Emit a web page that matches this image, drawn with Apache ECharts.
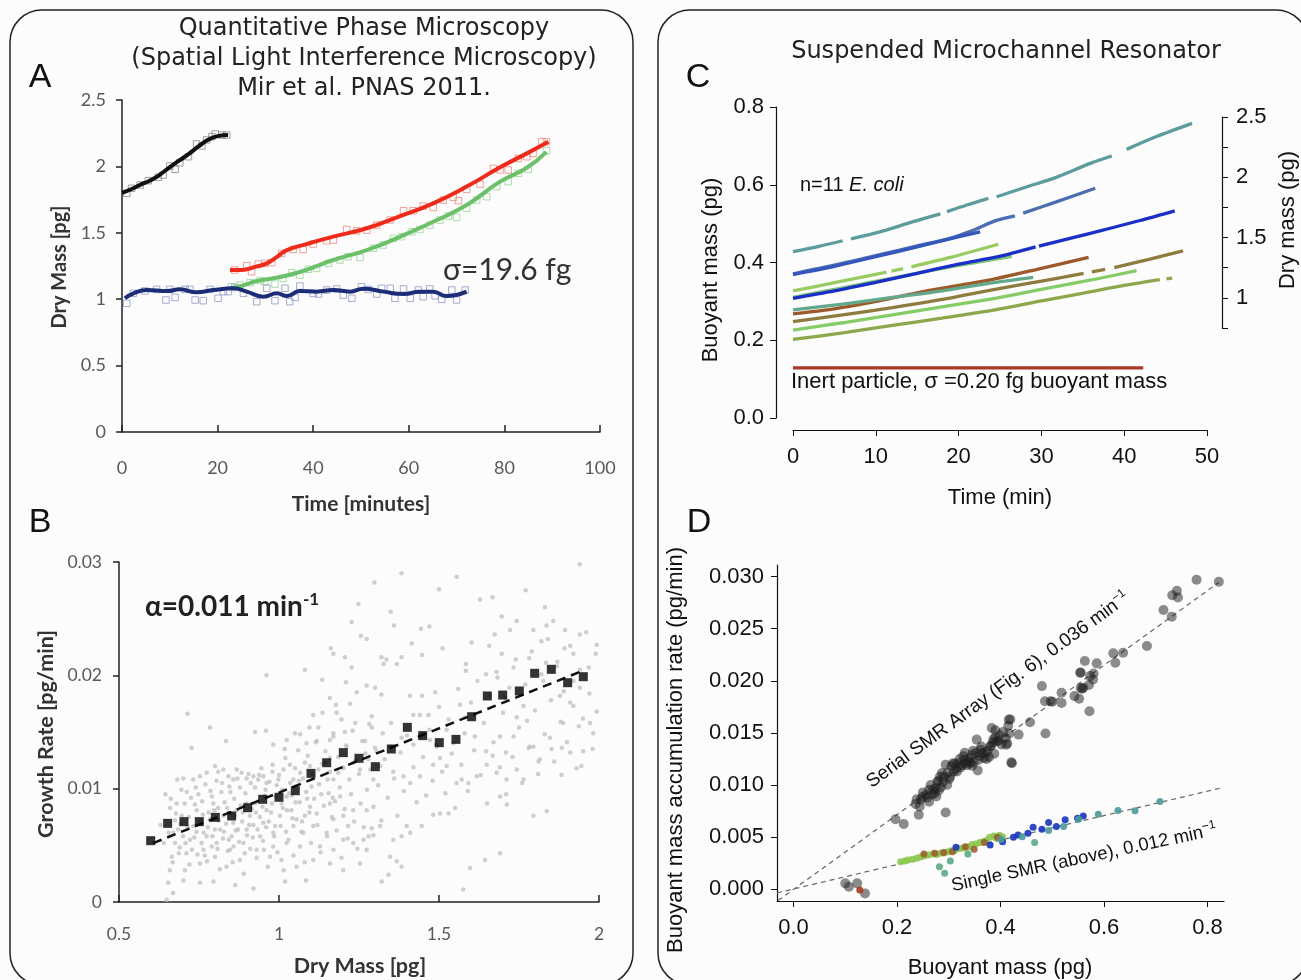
<!DOCTYPE html>
<html><head><meta charset="utf-8">
<script src="https://cdn.jsdelivr.net/npm/echarts@6/dist/echarts.min.js"></script>
<style>html,body{margin:0;padding:0;background:#fcfcfc}#c{width:1301px;height:980px}</style>
</head><body><div id="c"></div><script>
// ---------------- Panel A (dry mass vs time) ----------------
const aBlackLine = [[0,1.80],[2,1.83],[4,1.865],[6,1.895],[8,1.94],[10,1.995],[12,2.045],[14,2.095],[16,2.15],[18,2.2],[20,2.228],[22.2,2.236]];
const aBlackMarks = [[1.0,1.797],[2.0,1.835],[3.8,1.86],[5.5,1.893],[7.6,1.918],[8.6,1.935],[10.0,2.003],[11.1,1.978],[12.1,2.028],[13.9,2.073],[15.6,2.169],[16.7,2.154],[17.7,2.199],[18.8,2.224],[19.5,2.244],[20.9,2.236],[21.9,2.236]];
const aRedLine = [[22.6,1.22],[25,1.22],[28,1.245],[30.3,1.27],[32.5,1.32],[34.5,1.37],[38.6,1.415],[44.2,1.471],[51.2,1.534],[58.2,1.626],[65.1,1.722],[72.1,1.848],[79.1,1.993],[84.7,2.098],[89.2,2.186]];
const aRedMarks = [[23.6,1.22],[26.1,1.252],[27.1,1.207],[28.5,1.265],[29.9,1.27],[31.3,1.275],[33.4,1.345],[35.8,1.375],[37.9,1.375],[40.0,1.415],[42.8,1.44],[44.2,1.445],[47.0,1.525],[49.1,1.515],[51.2,1.52],[53.3,1.558],[56.1,1.596],[58.9,1.666],[60.9,1.666],[63.0,1.701],[65.1,1.691],[67.2,1.747],[69.3,1.767],[70.4,1.742],[72.1,1.827],[74.9,1.867],[77.7,1.985],[79.1,1.973],[80.8,1.973],[82.9,2.06],[84.7,2.073],[86.0,2.098],[87.8,2.186],[88.8,2.186]];
const aGreenLine = [[22.6,1.082],[25,1.10],[28,1.135],[32,1.16],[37.2,1.205],[44.2,1.295],[51.2,1.37],[58.2,1.471],[65.1,1.583],[72.1,1.709],[79.1,1.885],[84.7,1.99],[88.8,2.11]];
const aGreenMarks = [[22.9,1.094],[24.7,1.107],[26.8,1.124],[28.9,1.14],[29.9,1.132],[32.0,1.114],[33.7,1.157],[35.5,1.2],[37.2,1.182],[39.0,1.225],[40.7,1.232],[43.2,1.27],[45.6,1.295],[47.3,1.32],[49.8,1.315],[52.6,1.383],[54.6,1.408],[56.8,1.458],[58.5,1.471],[60.6,1.508],[62.3,1.525],[64.4,1.558],[66.5,1.596],[68.3,1.626],[70.0,1.616],[72.1,1.684],[74.2,1.747],[76.3,1.772],[78.4,1.848],[80.8,1.885],[82.9,1.948],[85.0,1.978],[88.8,2.118]];
const aBlueLine = [[0.6,1.007],[2.4,1.044],[5.2,1.069],[9.4,1.061],[12.1,1.074],[15.6,1.052],[19.1,1.069],[23.3,1.082],[26.1,1.057],[29.6,1.019],[32.4,1.044],[34.5,1.024],[37.2,1.061],[40.7,1.057],[44.2,1.069],[47.7,1.057],[50.5,1.079],[54.7,1.057],[58.9,1.039],[62.3,1.057],[65.1,1.057],[67.9,1.024],[72.1,1.057]];
const aBlueMarks = [[0.98,0.969],[2.37,1.044],[4.81,1.062],[7.25,1.074],[9.2,0.994],[10.0,1.074],[11.1,1.014],[13.2,1.074],[14.2,1.074],[15.3,0.994],[17.0,0.989],[18.4,1.074],[20.1,1.007],[21.2,1.057],[22.2,1.057],[23.6,1.089],[25.4,1.044],[28.2,0.981],[30.3,1.082],[32.0,0.989],[34.1,1.082],[35.1,0.981],[36.2,1.014],[37.2,1.099],[40.0,1.044],[41.1,1.039],[42.8,1.069],[44.9,1.077],[46.3,1.031],[48.1,1.007],[50.1,1.094],[51.5,1.074],[53.3,1.039],[54.3,1.082],[56.1,1.082],[57.1,1.007],[58.9,1.077],[60.3,1.007],[62.0,1.069],[63.0,1.019],[64.4,1.077],[65.5,1.026],[66.9,0.999],[69.0,1.069],[70.0,0.994],[71.8,1.069]];

// ---------------- Panel B (growth rate vs dry mass) ----------------
const bBins = [[0.599,0.00541],[0.652,0.00694],[0.703,0.00709],[0.751,0.00709],[0.801,0.00747],[0.852,0.00759],[0.902,0.00832],[0.949,0.00906],[1.000,0.00924],[1.051,0.00982],[1.100,0.01135],[1.149,0.01229],[1.201,0.01318],[1.250,0.01268],[1.301,0.01194],[1.351,0.01350],[1.401,0.01541],[1.449,0.01468],[1.501,0.01406],[1.553,0.01435],[1.602,0.01635],[1.651,0.01818],[1.699,0.01826],[1.751,0.01862],[1.799,0.02018],[1.851,0.02053],[1.902,0.01935],[1.951,0.01988]];
const bFit = [[0.607,0.0052],[1.94,0.0203]];
const bCells = [[1.94,.0298],[1.383,.029],[1.555,.0287],[1.298,.0282],[1.5,.0276],[1.771,.0275],[1.628,.0267],[1.667,.0269],[1.831,.026],[1.248,.0263],[1.349,.0256],[1.696,.0252],[1.743,.0248],[1.857,.0248],[1.227,.0247],[1.359,.0244],[1.444,.0241],[1.47,.0243],[1.722,.024],[1.795,.024],[1.836,.0244],[1.894,.024],[1.94,.0236],[1.256,.0235],[1.274,.0232],[1.602,.0229],[1.993,.0227],[1.82,.023],[1.674,.0236],[1.162,.0224],[1.415,.0228],[1.511,.0224],[1.657,.0226],[1.892,.0224],[1.447,.0218],[1.696,.0219],[1.92,.0219],[1.17,.0219],[1.32,.0216],[1.336,.0214],[1.383,.0216],[1.782,.0215],[1.834,.0211],[1.206,.0216],[1.081,.0205],[1.227,.0207],[1.327,.021],[1.368,.021],[1.584,.021],[1.584,.0204],[1.733,.0207],[1.868,.0208],[1.968,.0207],[.961,.02],[1.647,.0201],[1.683,.0198],[1.826,.0195],[1.92,.0195],[1.135,.0196],[1.209,.0194],[1.94,.0189],[1.274,.0191],[1.3,.0189],[1.243,.0185],[1.32,.0183],[1.409,.0182],[1.447,.0182],[1.488,.0185],[1.707,.018],[1.878,.0182],[1.91,.0176],[1.993,.0168],[1.764,.0173],[1.159,.018],[1.178,.0174],[1.222,.0175],[1.107,.0165],[1.136,.0167],[1.18,.0167],[1.195,.0161],[1.29,.0164],[1.42,.0165],[1.467,.0165],[1.566,.0174],[1.582,.0163],[1.743,.0163],[1.775,.016],[1.972,.0158],[1.982,.0149],[1.888,.0158],[1.937,.0155],[.714,.0166],[.925,.015],[.959,.0151],[1.05,.0149],[1.066,.0148],[1.095,.0154],[1.123,.0154],[1.17,.0149],[1.206,.015],[1.238,.0158],[1.282,.0157],[1.324,.0149],[1.447,.0148],[1.472,.0143],[1.524,.0152],[1.612,.0146],[1.691,.0146],[1.733,.0146],[1.795,.0137],[1.847,.0145],[1.884,.0136],[1.951,.0133],[.784,.0154],[.834,.0142],[.727,.0136],[.982,.0139],[1.024,.0143],[1.018,.0135],[1.086,.014],[1.118,.0142],[1.159,.0143],[1.211,.0137],[1.269,.0142],[1.305,.0133],[1.349,.0137],[1.383,.0145],[1.42,.0139],[1.493,.0137],[1.545,.014],[1.647,.0133],[1.668,.0129],[1.709,.0132],[1.784,.0137],[1.811,.0124],[1.852,.0135],[1.91,.0132],
[.682,.0108],[.701,.0109],[.732,.0108],[.753,.0111],[.774,.0114],[.8,.012],[.81,.0115],[.826,.0117],[.842,.0111],[.857,.0108],[.868,.0117],[.883,.0114],[.899,.0109],[.92,.0111],[.935,.0108],[.951,.0111],[.961,.0105],[.98,.0115],[.998,.0108],[1.014,.0117],[1.034,.0121],[1.045,.0108],[1.066,.0114],[1.081,.0123],[1.097,.012],[1.123,.0117],[1.144,.0123],[1.159,.0127],[1.17,.0108],[1.185,.0114],[1.201,.0118],[1.232,.0123],[1.253,.0117],[1.279,.0126],[1.295,.0108],[1.316,.012],[1.357,.0115],[1.389,.0111],[1.41,.0105],[1.441,.0111],[1.482,.0121],[1.503,.0127],[1.524,.012],[1.555,.0105],[1.571,.0108],[1.618,.0111],[1.649,.0121],[1.68,.0114],[1.711,.0108],[1.743,.0117],[1.764,.0108],[1.815,.0126],[1.883,.0112],[1.945,.012],[1.795,.0076],[1.837,.008],[1.712,.0086],[1.691,.0093],[1.592,.0105],[1.644,.0037],[1.691,.0043],[1.597,.003],[1.576,.0011],[1.503,.0078],[1.482,.0077],[1.53,.0078],[1.446,.0067],[1.383,.0058],[1.399,.0067],[1.357,.0055],[1.383,.0031],[1.368,.0036],[1.347,.004],[1.321,.0018],[1.342,.0024],[1.316,.0067],[1.295,.0059],[1.29,.0065],[1.264,.0055],[1.274,.0081],[1.232,.0081],[1.201,.0076],[1.191,.0093],[1.159,.0087],[1.17,.0073],[1.149,.0061],[1.128,.0049],[1.107,.0067],[1.097,.0084],[1.081,.0076],[1.076,.0061],[1.066,.0049],[1.045,.0067],[1.039,.0081],[1.024,.0093],[1.008,.0087],[1.003,.0076],[.982,.0061],[.982,.0049],[.972,.004],[.961,.0081],[.951,.007],[.941,.0058],[.93,.0046],[.925,.0087],[.909,.0076],[.899,.0064],[.889,.0052],[.878,.0037],[.868,.0081],[.857,.007],[.852,.0058],[.847,.0046],[.836,.0031],[.826,.0076],[.816,.0064],[.805,.0052],[.8,.004],[.795,.0087],[.784,.0073],[.774,.0058],[.764,.0046],[.753,.0034],[.743,.0081],[.732,.0067],[.722,.0055],[.711,.0043],[.706,.0028],[.696,.0076],[.685,.0064],[.675,.0052],[.665,.004],[.659,.0028],[.654,.0017],[.649,.0002],[.669,.0008],[.68,.0087],[.701,.0019],[.753,.0017],[.795,.0018],[.863,.0015],[.92,.0012],[1.019,.0018],[1.084,.0019],[1.159,.0034],[1.201,.0028],[1.253,.0034],[1.274,.0046],[1.232,.0052],[1.201,.0055],[1.216,.0067],[1.17,.0046],[1.107,.0037],[1.055,.0031],[1.008,.0037],[1.024,.0052],
[.63,.0068],[.64,.0052],[.645,.0095],[.66,.0083],[.67,.0061],[.675,.0072],[.69,.0048],[.695,.0099],[.70,.0058],[.705,.0087],[.715,.0066],[.72,.0033],[.725,.0092],[.735,.0057],[.74,.0101],[.745,.0042],[.755,.0072],[.76,.0089],[.765,.0061],[.77,.0104],[.775,.0036],[.78,.0079],[.79,.0093],[.79,.0049],[.80,.0064],[.805,.0107],[.81,.0083],[.815,.0029],[.82,.0097],[.825,.0056],[.83,.0088],[.835,.0069],[.84,.0045],[.845,.0102],[.85,.0078],[.855,.0035],[.86,.0091],[.865,.0063],[.87,.0109],[.875,.0053],[.88,.0085],[.885,.0071],[.89,.0025],[.895,.0096],[.90,.0059],[.905,.0113],[.91,.0047],[.915,.0082],[.92,.0068],[.925,.0101],[.93,.0039],[.935,.0089],[.94,.0075],[.945,.0118],[.95,.0054],[.955,.0094],[.96,.0066],[.965,.0031],[.97,.0106],[.975,.0079],[.98,.0121],[.985,.0058],[.99,.0093],[.995,.0044],[1.0,.0112],[1.005,.0067],[1.01,.0099],[1.015,.0028],[1.02,.0127],[1.025,.0081],[1.03,.0055],[1.035,.0105],[1.04,.0094],[1.045,.0041],[1.05,.0118],[1.055,.0073],[1.06,.0134],[1.065,.0088],[1.07,.0062],[1.075,.0109],[1.08,.0035],[1.085,.0097],[1.09,.0129],[1.095,.0079],[1.10,.0052],[1.105,.0113],[1.11,.0091],[1.115,.0141],[1.12,.0068],[1.125,.0104],[1.13,.0044],[1.135,.0122],[1.14,.0085],[1.145,.0133],[1.15,.0058],[1.155,.0096],[1.16,.0115],[1.165,.0075],[1.17,.0146],[1.175,.0089],[1.18,.0063],[1.185,.0128],[1.19,.0101],[1.195,.0039],[1.20,.0119],[1.205,.0082],[1.21,.0138],[1.215,.0056],[1.22,.0108],[1.225,.0095],[1.23,.0151],[1.235,.0071],[1.24,.0125],[1.245,.0047],[1.25,.0113],[1.255,.0087],[1.26,.0142],[1.265,.0066],[1.27,.0131],[1.275,.0099],[1.28,.0058],[1.285,.0117],[1.29,.0154],[1.295,.0084],[1.30,.0136],[1.31,.0103],[1.32,.0072],[1.33,.0126],[1.34,.0092],[1.35,.0158],[1.36,.0109],[1.37,.0076],[1.38,.0132],[1.39,.0098],[1.40,.0147],[1.41,.0061],[1.42,.0119],[1.43,.0088],[1.44,.0165],[1.45,.0128],[1.46,.0094],[1.47,.0152],[1.48,.0107],[1.49,.0139],[1.50,.0172],[1.51,.0115],[1.52,.0096],[1.53,.0161],[1.54,.0131],[1.55,.0083],[1.56,.0188],[1.57,.0121],[1.58,.0149],[1.59,.0098],[1.60,.0176],[1.61,.0134],[1.62,.0195],[1.63,.0112],[1.64,.0158],[1.65,.0087],[1.66,.0182],[1.67,.0141],[1.68,.0203],[1.69,.0119],[1.70,.0167],[1.71,.0095],[1.72,.0189],[1.73,.0128],[1.74,.0214],[1.75,.0154],[1.76,.0105],[1.77,.0192],[1.78,.0136],[1.79,.0221],[1.80,.0169],[1.81,.0113],[1.82,.0201],[1.83,.0148],[1.84,.0232],[1.85,.0178],[1.86,.0124],[1.87,.0212],[1.88,.0159],[1.89,.0186],[1.90,.0141],[1.91,.0226],[1.92,.0173],[1.93,.0118],[1.94,.0205],[1.95,.0162],[1.96,.0238],[1.97,.0184],[1.98,.0135],[1.99,.0219],
[.655,.0061],[.662,.0091],[.668,.0035],[.678,.0078],[.687,.0043],[.692,.0069],[.708,.0052],[.712,.0097],[.718,.0075],[.728,.0046],[.737,.0086],[.742,.0062],[.748,.0095],[.758,.0052],[.762,.0077],[.768,.0041],[.778,.0066],[.786,.0098],[.792,.0058],[.798,.0081],[.808,.0047],[.812,.0072],[.822,.0105],[.828,.0062],[.838,.0083],[.843,.0055],[.848,.0097],[.858,.0049],[.862,.0076],[.872,.0064],[.878,.0101],[.887,.0079],[.893,.0043],[.898,.0087],[.907,.0068],[.912,.0105],[.918,.0057],[.928,.0079],[.933,.0064],[.938,.0112],[.948,.0084],[.953,.0046],[.958,.0099],[.968,.0071],[.978,.0087],[.988,.0067],[.993,.0103],[1.012,.0083],[1.022,.0062],[1.032,.0096],[1.042,.0074],[1.052,.0088],[1.062,.0107],[1.072,.0071],[1.088,.0091],[1.102,.0102],[1.118,.0078],[1.132,.0095],[1.152,.0108],[1.168,.0092]];

// ---------------- Panel C (buoyant mass vs time; null = gap) ----------------
const cTeal = [[0,.428],[3,.441],[6,.456],null,[7,.461],[10.5,.479],[14.5,.505],[17.8,.525],null,[18.6,.531],[21,.548],[23.6,.565],null,[24.6,.569],[28,.593],[31.8,.619],[35.9,.655],[38.5,.674],null,[40.3,.691],[43.9,.724],[48.2,.758]];
const cSteel = [[0,.371],[5,.393],[10.5,.42],[15,.443],[18.6,.46],[22,.485],[24.4,.507],[26.8,.52],null,[27.8,.527],[31.8,.556],[36.5,.591]];
const cRoyal = [[0,.369],[5,.39],[10,.415],[15,.44],[18.6,.459],[22.6,.479]];
const cLightGreenA = [[0,.327],[5,.348],[11.3,.375],null,[11.9,.378],[13.3,.384],null,[14.3,.389],[19,.413],[24.8,.447]];
const cDarkBlue = [[0,.308],[5,.327],[10,.349],[15,.372],[20,.396],[24.8,.415],[29.3,.44],null,[29.7,.442],[35.9,.475],[41.9,.508],[46.1,.533]];
const cGreen = [[0,.31],[6,.335],[12,.36],[18,.385],[22,.40],[26.4,.416]];
const cTealGreen = [[0,.278],[6,.293],[12,.31],[18,.327],[23.8,.347],[29,.362]];
const cBrown = [[0,.268],[5,.281],[10.5,.302],[15,.322],[20,.341],[24.4,.358],[30,.385],[35.7,.413]];
const cOlive = [[0,.248],[6,.265],[12,.284],[18,.305],[24.4,.331],[30,.352],[35.1,.372],null,[36.1,.376],[37.7,.382],null,[38.8,.387],[43,.408],[47.1,.430]];
const cLightGreenB = [[0,.226],[6,.245],[12,.265],[18,.286],[24.4,.308],[30,.331],[36,.355],[41.5,.379]];
const cOliveGreen = [[0,.202],[6,.219],[12,.238],[18,.257],[24.4,.278],[30,.301],[36,.325],[40,.341],[44.3,.356],null,[45.1,.358],[45.8,.36]];
const cInert = [[0,.129],[10,.129],[20,.129],[30,.129],[42.3,.129]];
const cDryTicks = [0.75,1,1.25,1.5,1.75,2,2.25,2.5];
const cDryLabels = [1,1.5,2,2.5];

// ---------------- Panel D (accumulation rate vs buoyant mass) ----------------
const dTicksX = [0,0.2,0.4,0.6,0.8];
const dTicksY = [0,0.005,0.01,0.015,0.02,0.025,0.03];
const dSerial = [[.1,.00058],[.107,.00026],[.123,.00058],[.138,-.00038],[.197,.00673],[.213,.00628],[.242,.00715],[.244,.00795],[.238,.00865],[.249,.00885],[.256,.00907],[.262,.00955],[.273,.00923],[.275,.00971],[.278,.01035],[.283,.01083],[.287,.01115],[.294,.01196],[.294,.00737],[.297,.01003],[.303,.01083],[.311,.01205],[.316,.01131],[.321,.0125],[.328,.01276],[.332,.01212],[.339,.01228],[.345,.01292],[.345,.01186],[.356,.01141],[.354,.01436],[.361,.0134],[.365,.01308],[.373,.0125],[.38,.01372],[.383,.01548],[.386,.01436],[.388,.01301],[.39,.01526],[.394,.0142],[.411,.01388],[.415,.0157],[.416,.01628],[.421,.01218],[.417,.01494],[.435,.01484],[.457,.01603],[.48,.01949],[.486,.01804],[.487,.01494],[.497,.01804],[.518,.01885],[.518,.01788],[.543,.01853],[.552,.01827],[.554,.02077],[.558,.01923],[.56,.01933],[.563,.02189],[.572,.01708],[.573,.02045],[.579,.02013],[.586,.02167],[.618,.02263],[.622,.02173],[.637,.02269],[.683,.02333],[.715,.02679],[.731,.02615],[.732,.0282],[.741,.02862],[.743,.02798],[.779,.02968],[.822,.02949],
[.25,.0093],[.258,.0088],[.265,.01],[.27,.0096],[.276,.0089],[.28,.0104],[.285,.0098],[.29,.0108],[.298,.0112],[.305,.0118],[.31,.0113],[.318,.0121],[.323,.0117],[.33,.0124],[.335,.0119],[.34,.0126],[.348,.0122],[.352,.0131],[.36,.0128],[.368,.0126],[.375,.0133],[.382,.0138],[.39,.0146],[.396,.0143],[.405,.0151],[.41,.0145],[.413,.014],[.422,.0121],[.419,.0163],[.555,.0193],[.555,.0208],[.58,.0207],[.571,.0196],[.5,.018],
[.268,.0091],[.281,.0095],[.289,.0103],[.301,.0106],[.308,.0121],[.314,.0116],[.326,.0119],[.331,.0131],[.342,.0121],[.347,.0133],[.357,.0124],[.363,.0137],[.371,.0131],[.378,.0127],[.386,.0141],[.398,.0148],[.402,.0139],[.262,.0084],[.246,.0086],[.236,.0082]];
const dSingleLightGreen = [[.207,.00266],[.221,.00282],[.238,.00298],[.252,.00321],[.269,.0034],[.283,.00346],[.297,.00359],[.311,.00372],[.325,.00394],[.339,.0041],[.352,.00436],[.366,.00458],[.379,.005],[.387,.00513],[.404,.00506],[.215,.00272],[.23,.0029],[.245,.0031],[.26,.0033],[.276,.00335],[.29,.0035],[.304,.0037],[.318,.0039],[.332,.004],[.345,.0043],[.36,.0045],[.372,.0047],[.392,.0049],[.398,.0052]];
const dSingleTealGreen = [[.282,.00218],[.292,.00154],[.303,.00272],[.337,.0034],[.466,.00449]];
const dSingleBrown = [[.252,.0034],[.273,.00346],[.29,.00353],[.307,.00362],[.332,.0041],[.349,.00385],[.369,.00449],[.394,.005]];
const dSingleBlue = [[.314,.00404],[.38,.00426],[.404,.00458],[.425,.005],[.434,.00522],[.453,.00538],[.463,.00596],[.48,.00577],[.493,.00641],[.508,.00603],[.525,.00667],[.549,.00683],[.56,.00705]];
const dSingleTeal = [[.401,.00481],[.442,.00506],[.493,.00564],[.522,.00603],[.551,.00673],[.589,.00721],[.627,.00756],[.66,.00753],[.708,.00843]];
const dSingleRed = [[.128,-.00006]];
const dFitSerial = [[-0.03,-0.00107],[0.822,0.02943]];
const dFitSingle = [[-0.032,-0.00033],[0.826,0.00972]];

// ---------------- build ----------------
const SANS = 'Liberation Sans';
const CAL = 'Lato';
function segments(curve){const out=[];let cur=[];curve.forEach(p=>{if(p===null){if(cur.length)out.push(cur);cur=[];}else cur.push(p);});if(cur.length)out.push(cur);return out;}

const series = [];
function aLine(data,color){series.push({type:'line',xAxisIndex:0,yAxisIndex:0,data,smooth:0.5,symbol:'none',lineStyle:{color,width:4},z:3});}
function aMarks(data,color){series.push({type:'scatter',xAxisIndex:0,yAxisIndex:0,data,symbol:'rect',symbolSize:6.5,itemStyle:{color:'rgba(0,0,0,0)',borderColor:color,borderWidth:1},z:2});}
aMarks(aBlackMarks,'#8a8a8a'); aMarks(aRedMarks,'#f08a80'); aMarks(aGreenMarks,'#98d498'); aMarks(aBlueMarks,'#8e98c6');
aLine(aBlackLine,'#111'); aLine(aRedLine,'#ee2a1a'); aLine(aGreenLine,'#6cc06a'); aLine(aBlueLine,'#1c2d78');

series.push({type:'scatter',xAxisIndex:1,yAxisIndex:1,data:bCells,symbolSize:4.5,itemStyle:{color:'#c2c2c2'},z:1});
series.push({type:'line',xAxisIndex:1,yAxisIndex:1,data:bFit,symbol:'none',lineStyle:{color:'#111',width:2.5,type:[9,6]},z:3});
series.push({type:'scatter',xAxisIndex:1,yAxisIndex:1,data:bBins,symbol:'rect',symbolSize:9,itemStyle:{color:'#000'},z:4});

const cCurves = [[cOliveGreen,'#8ca84c'],[cLightGreenB,'#86cc66'],[cOlive,'#8e7c3e'],[cBrown,'#9c5a2a'],[cTealGreen,'#64a88c'],[cGreen,'#7cc276'],[cDarkBlue,'#1a2ec8'],[cLightGreenA,'#98cc62'],[cSteel,'#4a6eb0'],[cRoyal,'#3556bc'],[cTeal,'#5c9c9c'],[cInert,'#a83a28']];
cCurves.forEach(([curve,color])=>{segments(curve).forEach(seg=>{series.push({type:'line',xAxisIndex:2,yAxisIndex:2,data:seg,smooth:0.3,symbol:'none',lineStyle:{color,width:3.3}});});});

series.push({type:'line',xAxisIndex:4,yAxisIndex:4,data:dFitSerial,symbol:'none',lineStyle:{color:'#666',width:1.2,type:[5,4]},z:1});
series.push({type:'line',xAxisIndex:4,yAxisIndex:4,data:dFitSingle,symbol:'none',lineStyle:{color:'#666',width:1.2,type:[5,4]},z:1});
series.push({type:'scatter',xAxisIndex:4,yAxisIndex:4,data:dSerial,symbolSize:10,itemStyle:{color:'rgba(30,30,30,0.64)'},z:2});
[[dSingleLightGreen,'#8cc850'],[dSingleTealGreen,'#5aaa84'],[dSingleBrown,'#9a6030'],[dSingleBlue,'#1a34c0'],[dSingleTeal,'#4a9a9a'],[dSingleRed,'#a83a20']].forEach(([d,c])=>{
  series.push({type:'scatter',xAxisIndex:4,yAxisIndex:4,data:d,symbolSize:7,itemStyle:{color:c,opacity:0.9},z:3});
});

const lblA = {color:'#595959',fontFamily:CAL,fontSize:18};
const lblB = {color:'#595959',fontFamily:CAL,fontSize:17.5};
const lblC = {color:'#111',fontFamily:SANS,fontSize:22};
const blk = {onZero:false,lineStyle:{color:'#222',width:1.5}};
const blk1 = {onZero:false,lineStyle:{color:'#111',width:1.2}};

const xAxis = [
 {gridIndex:0,type:'value',min:0,max:100,interval:20,axisLine:blk,axisTick:{inside:true,length:7,lineStyle:{color:'#222',width:1.5}},axisLabel:Object.assign({margin:27},lblA),splitLine:{show:false}},
 {gridIndex:1,type:'value',min:0.5,max:2,interval:0.5,axisLine:blk,axisTick:{inside:true,length:7,lineStyle:{color:'#222',width:1.5}},axisLabel:Object.assign({margin:23},lblB),splitLine:{show:false}},
 {gridIndex:2,type:'value',min:0,max:50,interval:10,offset:12,axisLine:blk1,axisTick:{length:6,lineStyle:{color:'#111'}},axisLabel:Object.assign({margin:16},lblC),splitLine:{show:false}},
 {gridIndex:3,type:'value',min:0,max:1,show:false},
 {gridIndex:4,type:'value',min:-0.032,max:0.832,axisLine:blk1,axisTick:{length:6,customValues:dTicksX,lineStyle:{color:'#111'}},axisLabel:Object.assign({margin:16,customValues:dTicksX,formatter:v=>v.toFixed(1)},lblC),splitLine:{show:false}}
];
const yAxis = [
 {gridIndex:0,type:'value',min:0,max:2.5,interval:0.5,axisLine:Object.assign({show:true},blk),axisTick:{show:true,length:6,lineStyle:{color:'#222',width:1.5}},axisLabel:Object.assign({margin:16},lblA),splitLine:{show:false}},
 {gridIndex:1,type:'value',min:0,max:0.03,interval:0.01,axisLine:Object.assign({show:true},blk),axisTick:{show:true,length:6,lineStyle:{color:'#222',width:1.5}},axisLabel:Object.assign({margin:17},lblB),splitLine:{show:false}},
 {gridIndex:2,type:'value',min:0,max:0.8,interval:0.2,offset:17,axisLine:Object.assign({show:true},blk1),axisTick:{show:true,length:6,lineStyle:{color:'#111'}},axisLabel:Object.assign({margin:12,formatter:v=>v.toFixed(1)},lblC),splitLine:{show:false}},
 {gridIndex:3,type:'value',position:'right',min:0.75,max:2.5,axisLine:Object.assign({show:true},blk1),axisTick:{show:true,length:6,customValues:cDryTicks,lineStyle:{color:'#111'}},axisLabel:Object.assign({margin:14,customValues:cDryLabels},lblC),splitLine:{show:false}},
 {gridIndex:4,type:'value',min:-0.00111,max:0.0311,axisLine:Object.assign({show:true},blk1),axisTick:{show:true,length:6,customValues:dTicksY,lineStyle:{color:'#111'}},axisLabel:Object.assign({margin:13,customValues:dTicksY,formatter:v=>v.toFixed(3)},lblC),splitLine:{show:false}}
];

function txt(x,y,text,size,o){o=o||{};return {type:'text',x,y,rotation:o.rot||0,z:10,silent:true,style:Object.assign({text,fontSize:size,fontFamily:o.family||SANS,fontWeight:o.weight||'normal',fontStyle:o.style||'normal',fill:o.fill||'#111',align:o.align||'center',verticalAlign:'middle'},o.extra||{})};}
const R90 = Math.PI/2;
const graphic = [
 {type:'rect',shape:{x:10,y:10,width:623,height:975,r:32},style:{fill:'none',stroke:'#222',lineWidth:1.5},silent:true,z:0},
 {type:'rect',shape:{x:658,y:10,width:650,height:975,r:32},style:{fill:'none',stroke:'#222',lineWidth:1.5},silent:true,z:0},
 txt(40,78,'A',34), txt(40,523,'B',34), txt(698,78,'C',34), txt(699,523,'D',34),
 txt(364,29,'Quantitative Phase Microscopy',24,{family:'DejaVu Sans',fill:'#222'}),
 txt(364,59,'(Spatial Light Interference Microscopy)',24,{family:'DejaVu Sans',fill:'#222'}),
 txt(364,89,'Mir et al. PNAS 2011.',24,{family:'DejaVu Sans',fill:'#222'}),
 txt(1006,52,'Suspended Microchannel Resonator',24,{family:'DejaVu Sans',fill:'#222'}),
 txt(60,267,'Dry Mass [pg]',20,{family:CAL,weight:'bold',rot:R90,fill:'#333'}),
 txt(361,504,'Time [minutes]',21,{family:CAL,weight:'bold',fill:'#333'}),
 txt(443,270,'σ=19.6 fg',30,{family:CAL,align:'left',fill:'#333'}),
 txt(46,734,'Growth Rate [pg/min]',21.5,{family:CAL,weight:'bold',rot:R90,fill:'#333'}),
 txt(360,966,'Dry Mass [pg]',21.5,{family:CAL,weight:'bold',fill:'#333'}),
 {type:'text',x:145,y:607,z:10,silent:true,style:{text:'{a|α=0.011 min}{s|-1}',align:'left',verticalAlign:'middle',rich:{a:{fontSize:28,fontFamily:CAL,fontWeight:'bold',fill:'#222',lineHeight:32},s:{fontSize:17,fontFamily:CAL,fontWeight:'bold',fill:'#222',verticalAlign:'top',lineHeight:32}}}},
 txt(711,270,'Buoyant mass (pg)',22,{rot:R90}),
 txt(1288,220,'Dry mass (pg)',22,{rot:R90}),
 txt(1000,498,'Time (min)',22),
 {type:'text',x:800,y:185,z:10,silent:true,style:{text:'{a|n=11 }{i|E. coli}',align:'left',verticalAlign:'middle',rich:{a:{fontSize:20,fontFamily:SANS,fill:'#111'},i:{fontSize:20,fontFamily:SANS,fontStyle:'italic',fill:'#111'}}}},
 txt(791,382,'Inert particle, σ =0.20 fg buoyant mass',22,{align:'left'}),
 txt(676,750,'Buoyant mass accumulation rate (pg/min)',22,{rot:R90}),
 txt(1000,968,'Buoyant mass (pg)',22),
 {type:'text',x:998,y:690,rotation:36*Math.PI/180,z:10,silent:true,style:{text:'{a|Serial SMR Array (Fig. 6), 0.036 min}{s|−1}',align:'center',verticalAlign:'middle',rich:{a:{fontSize:19,fontFamily:SANS,fill:'#111',lineHeight:23},s:{fontSize:12,fontFamily:SANS,fill:'#111',verticalAlign:'top',lineHeight:23}}}},
 {type:'text',x:1084,y:858,rotation:12*Math.PI/180,z:10,silent:true,style:{text:'{a|Single SMR (above), 0.012 min}{s|−1}',align:'center',verticalAlign:'middle',rich:{a:{fontSize:18.5,fontFamily:SANS,fill:'#111',lineHeight:23},s:{fontSize:12,fontFamily:SANS,fill:'#111',verticalAlign:'top',lineHeight:23}}}}
];

const chart = echarts.init(document.getElementById('c'));
chart.setOption({
  animation:false, backgroundColor:'#fcfcfc',
  grid:[
    {left:122,top:100,width:478,height:332},
    {left:119,top:562,width:480,height:340},
    {left:793,top:107,width:414,height:311},
    {left:793,top:117,width:429,height:211},
    {left:777,top:565,width:447,height:336}
  ],
  xAxis, yAxis, series, graphic
});
</script></body></html>
